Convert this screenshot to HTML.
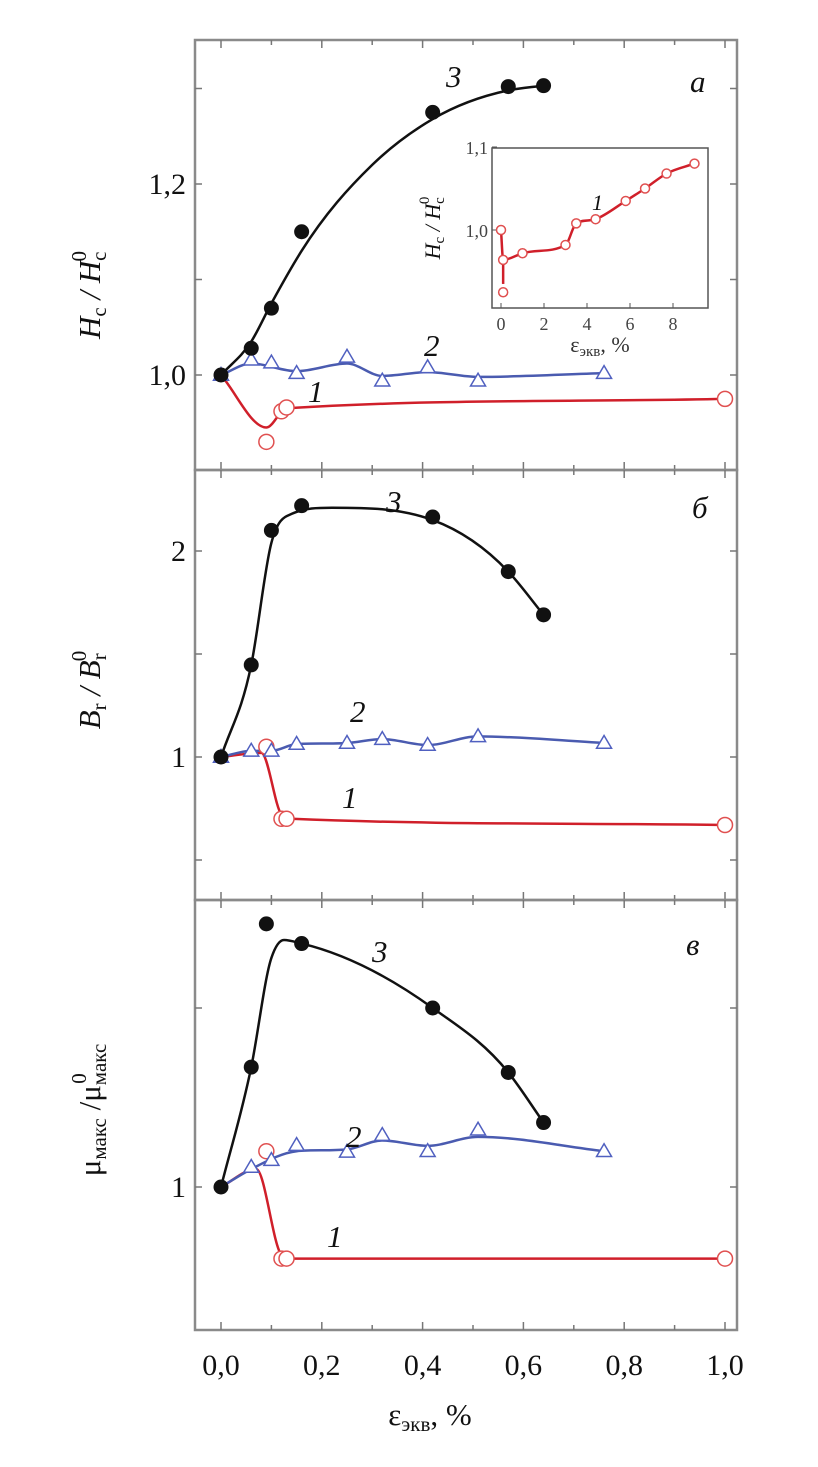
<!DOCTYPE html>
<html><head><meta charset="utf-8"><style>
html,body{margin:0;padding:0;background:#fff;}
svg{display:block;font-family:"Liberation Serif",serif;}
</style></head><body>
<svg id="chart" width="818" height="1467" viewBox="0 0 818 1467" xmlns="http://www.w3.org/2000/svg">
<g id="frames"></g>
<g id="marks"></g>
<g font-size="31" fill="#111">
  <text transform="translate(100,295) rotate(-90)" text-anchor="middle" font-style="italic">H<tspan font-size="21" dy="6" font-style="normal">c</tspan><tspan dy="-6"> / H</tspan><tspan font-size="21" dy="6" font-style="normal">c</tspan><tspan font-size="21" dx="-10" dy="-20" font-style="normal">0</tspan></text>
  <text transform="translate(100,690) rotate(-90)" text-anchor="middle" font-style="italic">B<tspan font-size="21" dy="6" font-style="normal">r</tspan><tspan dy="-6"> / B</tspan><tspan font-size="21" dy="6" font-style="normal">r</tspan><tspan font-size="21" dx="-8" dy="-20" font-style="normal">0</tspan></text>
  <text transform="translate(100,1110) rotate(-90)" text-anchor="middle">μ<tspan font-size="21" dy="6">макс</tspan><tspan dy="-6"> /μ</tspan><tspan font-size="21" dy="6">макс</tspan><tspan font-size="21" dx="-40" dy="-20">0</tspan></text>
  <text x="430" y="1425" text-anchor="middle">ε<tspan font-size="21" dy="6">экв</tspan><tspan dy="-6">, %</tspan></text>
  <text x="690" y="92" font-style="italic">a</text>
  <text x="692" y="518" font-style="italic">б</text>
  <text x="686" y="955" font-style="italic">в</text>
  <text x="446" y="87" font-style="italic">3</text>
  <text x="424" y="356" font-style="italic">2</text>
  <text x="308" y="402" font-style="italic">1</text>
  <text x="386" y="512" font-style="italic">3</text>
  <text x="350" y="722" font-style="italic">2</text>
  <text x="342" y="808" font-style="italic">1</text>
  <text x="372" y="962" font-style="italic">3</text>
  <text x="346" y="1147" font-style="italic">2</text>
  <text x="327" y="1247" font-style="italic">1</text>
  <text x="592" y="210" font-size="22" font-style="italic">1</text>
  <text transform="translate(440,228) rotate(-90)" text-anchor="middle" font-size="22" font-style="italic">H<tspan font-size="15" dy="4" font-style="normal">c</tspan><tspan dy="-4"> / H</tspan><tspan font-size="15" dy="4" font-style="normal">c</tspan><tspan font-size="15" dx="-7" dy="-15" font-style="normal">0</tspan></text>
  <text x="600" y="352" text-anchor="middle" font-size="22" fill="#333">ε<tspan font-size="15" dy="4">экв</tspan><tspan dy="-4">, %</tspan></text>
</g>
</svg>
<script>
// ---- data ----
const xTicks=[0,0.2,0.4,0.6,0.8,1.0];
const xTickLabels=["0,0","0,2","0,4","0,6","0,8","1,0"];
// panel a
const a3x=[0,0.06,0.10,0.16,0.42,0.57,0.64];
const a3y=[1.0,1.028,1.07,1.15,1.275,1.302,1.303];
const a3cx=[0,0.06,0.10,0.16,0.30,0.42,0.57,0.64];
const a3cy=[1.0,1.035,1.075,1.13,1.22,1.268,1.298,1.303];
const a2x=[0,0.06,0.10,0.15,0.25,0.32,0.41,0.51,0.76];
const a2y=[1.0,1.016,1.013,1.002,1.019,0.994,1.008,0.994,1.002];
const a2cx=[0,0.06,0.15,0.25,0.32,0.41,0.51,0.76];
const a2cy=[1.0,1.012,1.004,1.012,0.999,1.003,0.998,1.002];
const a1x=[0.09,0.12,0.13,1.0];
const a1y=[0.93,0.962,0.966,0.975];
const a1cx=[0,0.09,0.13,1.0];
const a1cy=[1.0,0.945,0.965,0.975];
// panel b
const b3x=[0,0.06,0.10,0.16,0.42,0.57,0.64];
const b3y=[1.0,1.447,2.10,2.22,2.165,1.90,1.69];
const b3cx=[0,0.06,0.10,0.14,0.22,0.42,0.57,0.64];
const b3cy=[1.0,1.447,2.04,2.18,2.21,2.15,1.90,1.69];
const b2x=[0,0.06,0.10,0.15,0.25,0.32,0.41,0.51,0.76];
const b2y=[1.0,1.03,1.03,1.063,1.068,1.087,1.058,1.10,1.068];
const b1x=[0.09,0.12,0.13,1.0];
const b1y=[1.05,0.70,0.70,0.67];
const b1cx=[0,0.08,0.12,0.14,1.0];
const b1cy=[1.0,1.02,0.72,0.70,0.67];
// panel c
const c3x=[0,0.06,0.09,0.16,0.42,0.57,0.64];
const c3y=[1.0,1.335,1.735,1.68,1.50,1.32,1.18];
const c3cx=[0,0.06,0.10,0.125,0.16,0.42,0.57,0.64];
const c3cy=[1.0,1.335,1.64,1.69,1.68,1.50,1.32,1.18];
const c2x=[0.06,0.10,0.15,0.25,0.32,0.41,0.51,0.76];
const c2y=[1.056,1.075,1.117,1.098,1.145,1.10,1.16,1.10];
const c2cx=[0,0.06,0.15,0.25,0.32,0.41,0.51,0.76];
const c2cy=[1.0,1.05,1.10,1.105,1.13,1.115,1.14,1.10];
const c1x=[0.09,0.12,0.13,1.0];
const c1y=[1.10,0.80,0.80,0.80];
const c1cx=[0,0.07,0.12,0.14,1.0];
const c1cy=[1.0,1.05,0.81,0.80,0.80];
// inset
const ix=[0,0.1,0.1,1,3,3.5,4.4,5.8,6.7,7.7,9];
const iy=[1.0,0.964,0.925,0.972,0.982,1.008,1.013,1.035,1.05,1.068,1.08];
const icx=[0,0.1,1,3,3.5,4.4,5.8,6.7,7.7,9];
const icy=[1.0,0.964,0.972,0.982,1.008,1.013,1.035,1.05,1.068,1.08];
const inXTicks=[0,2,4,6,8];
const inYTicks=[1.0,1.1];
const inYTickLabels=["1,0","1,1"];

const NS="http://www.w3.org/2000/svg";
const frames=document.getElementById('frames');
const marks=document.getElementById('marks');
function mk(tag,attrs,parent){const e=document.createElementNS(NS,tag);for(const k in attrs)e.setAttribute(k,attrs[k]);parent.appendChild(e);return e;}
const X=v=>221+v*504;
const L=195,R=737;
const panels=[
 {top:40,bot:470,y:v=>375-(v-1)*955,ticks:[0.9,1.0,1.1,1.2,1.3],labs:[[1.0,"1,0"],[1.2,"1,2"]]},
 {top:470,bot:900,y:v=>757-(v-1)*206,ticks:[0.5,1,1.5,2],labs:[[1,"1"],[2,"2"]]},
 {top:900,bot:1330,y:v=>1187-(v-1)*358,ticks:[0.5,1,1.5,2],labs:[[1,"1"]]}
];
panels.forEach((p,i)=>{
 const r=mk('rect',{x:L,y:p.top,width:R-L,height:p.bot-p.top,fill:'none',stroke:'#8a8a8a','stroke-width':2.5},frames);
 
 
 for(let k=0;k<=10;k++){const x=X(k/10);const len=k%2?5:8;
  mk('line',{x1:x,x2:x,y1:p.bot,y2:p.bot-len,stroke:'#777','stroke-width':1.5},frames);
  mk('line',{x1:x,x2:x,y1:p.top,y2:p.top+len,stroke:'#777','stroke-width':1.5},frames);}
 p.ticks.forEach(t=>{const y=p.y(t);if(y<=p.top||y>=p.bot)return;
  mk('line',{x1:L,x2:L+7,y1:y,y2:y,stroke:'#777','stroke-width':1.5},frames);
  mk('line',{x1:R,x2:R-7,y1:y,y2:y,stroke:'#777','stroke-width':1.5},frames);});
 p.labs.forEach(([v,s])=>{const t=mk('text',{x:186,y:p.y(v)+10,'text-anchor':'end','font-size':30,fill:'#111'},frames);t.textContent=s;
  
  });
});
xTicks.forEach((v,i)=>{const t=mk('text',{x:X(v),y:1375,'text-anchor':'middle','font-size':30,fill:'#111'},frames);t.textContent=xTickLabels[i];
 
 });

// monotone-x cubic (no loops)
function spline(xs,ys,fx,fy){
 const P=xs.map((x,i)=>[fx(x),fy(ys[i])]).filter((p,i,a)=>i===0||p[0]>a[i-1][0]+0.01||p[1]!==a[i-1][1]);
 const n=P.length; if(n<2)return '';
 const s=[];for(let i=0;i<n-1;i++){const dx=P[i+1][0]-P[i][0];s.push(dx>0.01?(P[i+1][1]-P[i][1])/dx:0);}
 const m=[];
 for(let i=0;i<n;i++){
  if(i===0)m.push(s[0]);else if(i===n-1)m.push(s[n-2]);
  else{const a=s[i-1],b=s[i];if(a*b<=0)m.push(0);else{const h0=P[i][0]-P[i-1][0],h1=P[i+1][0]-P[i][0];m.push((a*h1+b*h0)/(h0+h1));
    const lim=3*Math.min(Math.abs(a),Math.abs(b));if(Math.abs(m[i])>lim)m[i]=Math.sign(m[i])*lim;}}
 }
 let d='M'+P[0][0]+','+P[0][1];
 for(let i=0;i<n-1;i++){const h=(P[i+1][0]-P[i][0])/3;
  d+=' C'+(P[i][0]+h)+','+(P[i][1]+m[i]*h)+' '+(P[i+1][0]-h)+','+(P[i+1][1]-m[i+1]*h)+' '+P[i+1][0]+','+P[i+1][1];}
 return d;
}
function curve(xs,ys,fx,fy,col,name,w){const e=mk('path',{d:spline(xs,ys,fx,fy),fill:'none',stroke:col,'stroke-width':w||2.5,'stroke-linejoin':'round'},marks);
 
 }
function dots(xs,ys,fx,fy,kind,name,s){s=s||7.5;
 xs.forEach((x,i)=>{const cx=fx(x),cy=fy(ys[i]);let e;
  if(kind==='fill')e=mk('circle',{cx,cy,r:s,fill:'#111'},marks);
  else if(kind==='open')e=mk('circle',{cx,cy,r:s,fill:'#fff',stroke:'#e05050','stroke-width':1.5},marks);
  else e=mk('polygon',{points:`${cx},${cy-s} ${cx-s},${cy+s*0.7} ${cx+s},${cy+s*0.7}`,fill:'#fff',stroke:'#5060c0','stroke-width':1.5},marks);
  
  });}
const RED='#d01f2a',BLUE='#4a5bb0',BLK='#111';
const [pa,pb,pc]=panels;
curve(a1cx,a1cy,X,pa.y,RED,'curve-a1');curve(a2cx,a2cy,X,pa.y,BLUE,'curve-a2');curve(a3cx,a3cy,X,pa.y,BLK,'curve-a3');
dots(a1x,a1y,X,pa.y,'open','point-a1');dots(a2x,a2y,X,pa.y,'tri','point-a2');dots(a3x,a3y,X,pa.y,'fill','point-a3');
curve(b1cx,b1cy,X,pb.y,RED,'curve-b1');curve(b2x,b2y,X,pb.y,BLUE,'curve-b2');curve(b3cx,b3cy,X,pb.y,BLK,'curve-b3');
dots(b1x,b1y,X,pb.y,'open','point-b1');dots(b2x,b2y,X,pb.y,'tri','point-b2');dots(b3x,b3y,X,pb.y,'fill','point-b3');
curve(c1cx,c1cy,X,pc.y,RED,'curve-c1');curve(c2cx,c2cy,X,pc.y,BLUE,'curve-c2');curve(c3cx,c3cy,X,pc.y,BLK,'curve-c3');
dots(c1x,c1y,X,pc.y,'open','point-c1');dots(c2x,c2y,X,pc.y,'tri','point-c2');dots(c3x,c3y,X,pc.y,'fill','point-c3');

// inset
const IX=v=>501+v*21.5, IY=v=>230-(v-1)*830;
const ir=mk('rect',{x:492,y:148,width:216,height:160,fill:'#fff',stroke:'#555','stroke-width':1.5},marks);


inXTicks.forEach(v=>{mk('line',{x1:IX(v),x2:IX(v),y1:308,y2:303,stroke:'#555'},marks);
 const t=mk('text',{x:IX(v),y:330,'text-anchor':'middle','font-size':18,fill:'#444'},marks);t.textContent=v;
 
 });
inYTicks.forEach((v,i)=>{mk('line',{x1:492,x2:497,y1:IY(v),y2:IY(v),stroke:'#555'},marks);
 const t=mk('text',{x:488,y:IY(v)+7,'text-anchor':'end','font-size':18,fill:'#444'},marks);t.textContent=inYTickLabels[i];
 
 });
curve(icx,icy,IX,IY,RED,'inset-curve',2.5);
mk('line',{x1:IX(0.1),x2:IX(0.1),y1:IY(0.964),y2:IY(0.935),stroke:RED,'stroke-width':2.5},marks);
dots(ix,iy,IX,IY,'open','inset-point',4.5);
</script>
</body></html>
